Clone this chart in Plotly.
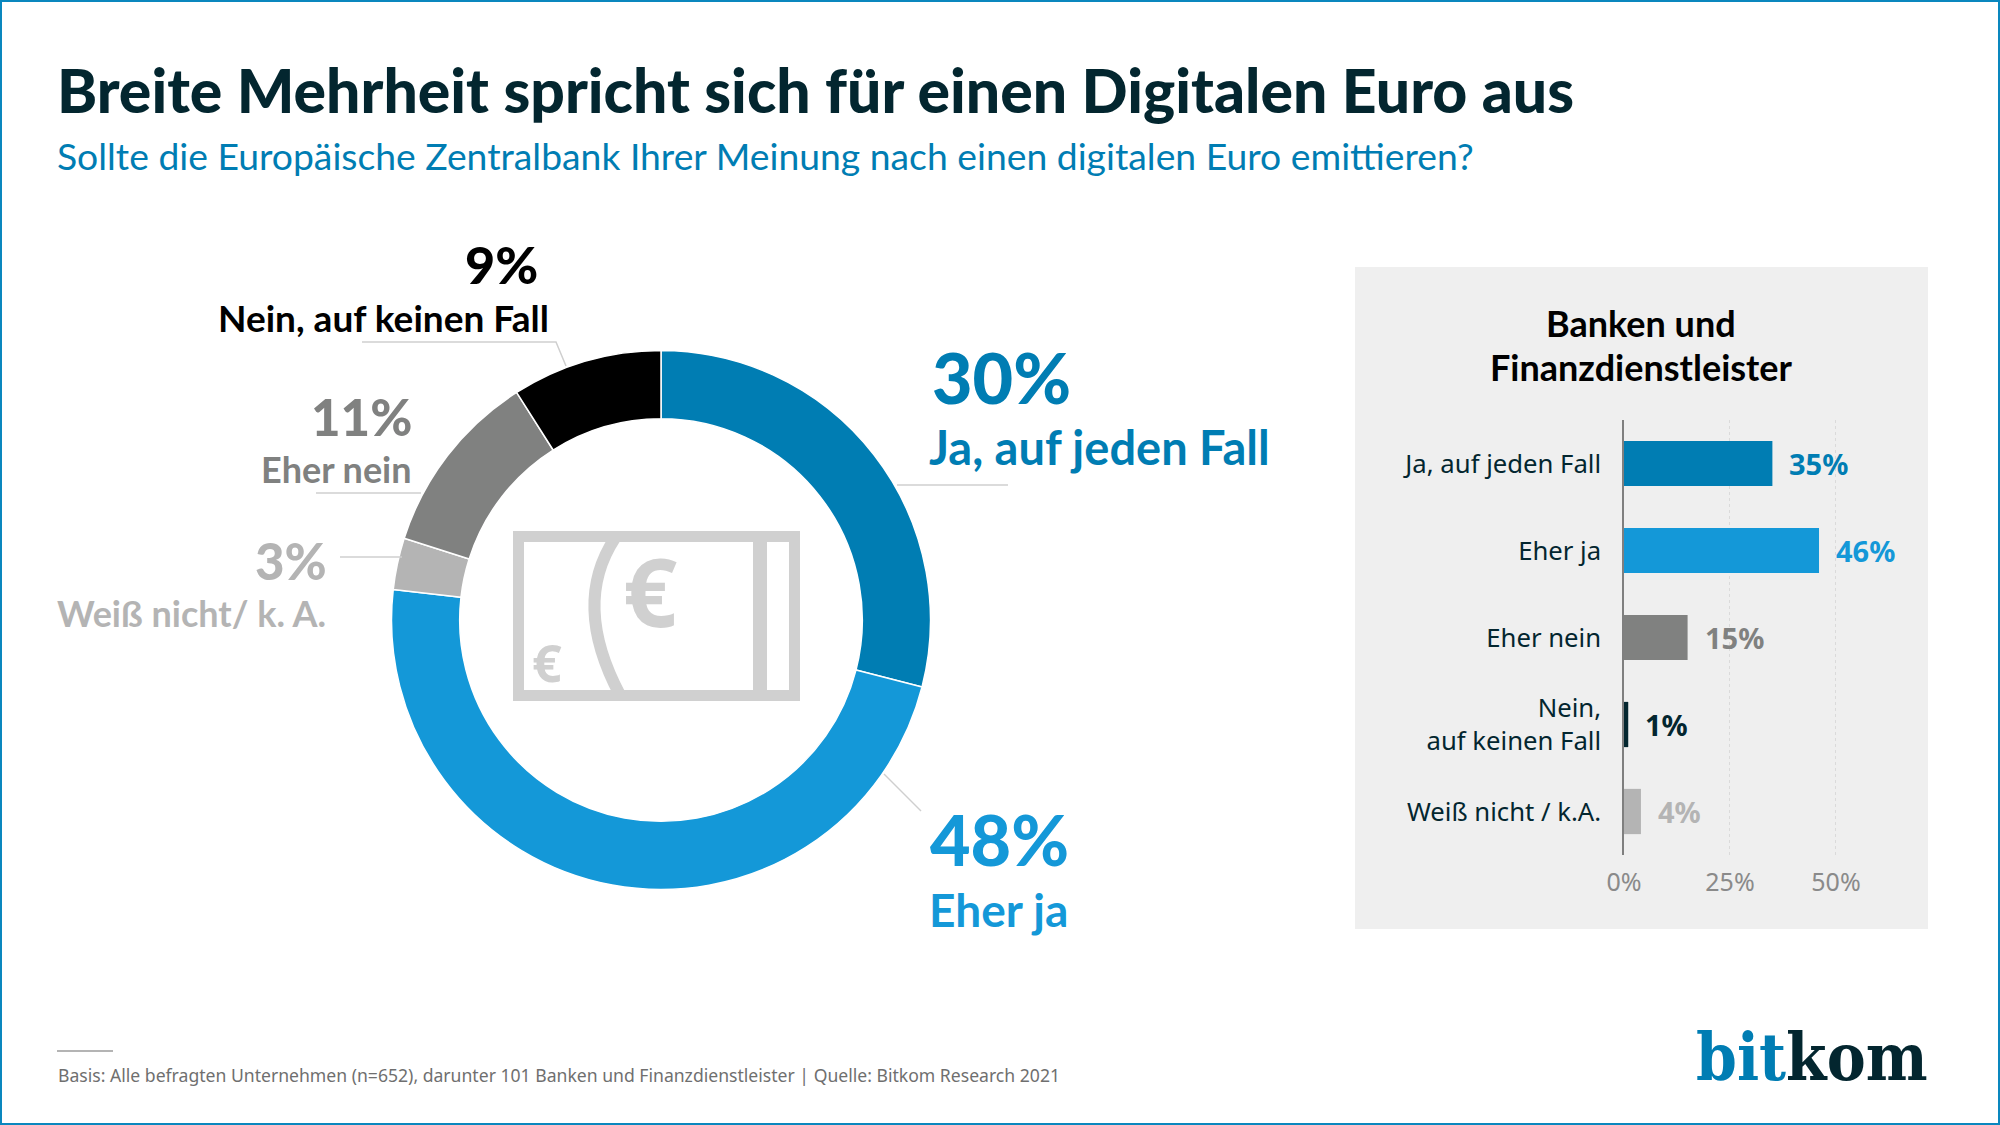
import plotly.graph_objects as go

W, H = 2000, 1125

# donut, total sample
pie_names = ["Ja, auf jeden Fall", "Eher ja", "Weiß nicht/ k. A.", "Eher nein", "Nein, auf keinen Fall"]
pie_values = [29.0, 47.8, 3.1, 11.1, 9.0]
pie_shown = ["30%", "48%", "3%", "11%", "9%"]
pie_colors = ["#007DB3", "#1498D8", "#B4B4B4", "#808180", "#000000"]

# bars, banks and financial services
bar_names = ["Ja, auf jeden Fall", "Eher ja", "Eher nein", "Nein,<br>auf keinen Fall", "Weiß nicht / k.A."]
bar_values = [35, 46, 15, 1, 4]
bar_colors = ["#007DB3", "#1498D8", "#808180", "#03262F", "#B4B4B4"]
bar_ticks = [0, 25, 50]

FONT = "Lato"
FONT2 = "Noto Sans"
DARK = "#03262F"
LEAD = "#CFCFCF"
ICON = "#D0D0D0"


def px(x):
    return x / W


def py(y):
    return 1 - y / H


def label(x, y, text, size, color, anchor="left", weight=700, font=FONT):
    return dict(xref="paper", yref="paper", x=px(x), y=py(y), text=text, showarrow=False,
                xanchor=anchor, yanchor="middle", align=anchor,
                font=dict(family=font, size=size, color=color, weight=weight))


def seg(points, color=LEAD, width=1.5):
    path = "M " + " L ".join(f"{px(x)} {py(y)}" for x, y in points)
    return dict(type="path", xref="paper", yref="paper", path=path, line=dict(color=color, width=width))


def box(x0, y0, x1, y1, fill=None, line=None, width=0, layer="below"):
    return dict(type="rect", xref="paper", yref="paper", x0=px(x0), x1=px(x1), y0=py(y0), y1=py(y1),
                fillcolor=fill or "rgba(0,0,0,0)", line=dict(color=line or "rgba(0,0,0,0)", width=width), layer=layer)


fig = go.Figure()

# donut
cx, cy, r = 661, 620, 269.5
fig.add_trace(go.Pie(
    labels=pie_names, values=pie_values, sort=False, direction="clockwise", rotation=0,
    hole=0.747, textinfo="none", showlegend=False,
    marker=dict(colors=pie_colors, line=dict(color="white", width=1.5)),
    domain=dict(x=[px(cx - r), px(cx + r)], y=[py(cy + r), py(cy - r)]),
))

# bars
fig.add_trace(go.Bar(
    x=bar_values, y=bar_names, orientation="h", width=0.52, showlegend=False,
    marker=dict(color=bar_colors, line=dict(width=0)), xaxis="x", yaxis="y",
))

annos = [
    label(54.5, 89, "Breite Mehrheit spricht sich für einen Digitalen Euro aus", 60.7, DARK, weight=900),
    label(55, 155, "Sollte die Europäische Zentralbank Ihrer Meinung nach einen digitalen Euro emittieren?", 37.3, "#007DB3", weight=400),
    label(929.5, 377, pie_shown[0], 70, pie_colors[0], weight=900),
    label(926.5, 447, pie_names[0], 47, pie_colors[0]),
    label(927.5, 839, pie_shown[1], 70, pie_colors[1], weight=900),
    label(926.5, 909, pie_names[1], 46, pie_colors[1]),
    label(329, 560, pie_shown[2], 51, pie_colors[2], "right", weight=900),
    label(328, 613, pie_names[2], 36, pie_colors[2], "right"),
    label(414, 416, pie_shown[3], 51, pie_colors[3], "right", weight=900),
    label(414, 469, pie_names[3], 36, pie_colors[3], "right"),
    label(540, 264, pie_shown[4], 52, pie_colors[4], "right", weight=900),
    label(551, 317, pie_names[4], 37, pie_colors[4], "right"),
    label(1641, 323, "Banken und", 36, "#000000", "center"),
    label(1641, 367, "Finanzdienstleister", 36, "#000000", "center"),
    label(56, 1075, "Basis: Alle befragten Unternehmen (n=652), darunter 101 Banken und Finanzdienstleister | Quelle: Bitkom Research 2021", 17.6, "#6F6F6F", weight=400, font=FONT2),
    label(650, 590, "€", 95, ICON, "center", font=FONT2),
    label(547, 661, "€", 52, ICON, "center", font=FONT2),
    label(1930, 1057, "<span style='color:#007DB3'>bit</span>kom", 65, DARK, "right", font="DejaVu Serif Condensed"),
]

# value labels next to the bars
for name, val, col in zip(bar_names, bar_values, bar_colors):
    annos.append(dict(xref="x", yref="y", x=val, y=name, text=f"{val}%", showarrow=False,
                      xanchor="left", xshift=15, yshift=0,
                      font=dict(family=FONT2, size=29, color=col, weight=700)))

shapes = [
    box(1355, 267, 1928, 929, fill="#EFEFEF"),
    box(1, 1, 1999, 1124, line="#0A87BE", width=2),
    # leader lines
    seg([(897, 485), (1008, 485)]),
    seg([(884, 774), (921, 811)]),
    seg([(362, 342), (556, 342), (566, 366)]),
    seg([(316, 493), (421, 493)]),
    seg([(340, 557), (402, 557)]),
    seg([(57, 1051), (113, 1051)], color="#B4B4B4", width=2),
    # banknote icon
    box(518.5, 536.5, 794.5, 695.5, line=ICON, width=11),
    box(753, 531, 767, 701, fill=ICON),
    dict(type="path", xref="paper", yref="paper", line=dict(color=ICON, width=12),
         path=f"M {px(615)} {py(538)} Q {px(571.5)} {py(604)} {px(620)} {py(695)}"),
]

fig.update_layout(
    width=W, height=H, margin=dict(l=0, r=0, t=0, b=0),
    paper_bgcolor="white", plot_bgcolor="rgba(0,0,0,0)", showlegend=False,
    annotations=annos, shapes=shapes,
    xaxis=dict(domain=[px(1624), px(1900)], range=[0, 65.1], tickvals=bar_ticks, automargin=False,
               ticktext=[f"{t}%" for t in bar_ticks], showline=False, zeroline=False,
               showgrid=True, gridcolor="#DADADA", griddash="dot", gridwidth=1,
               tickfont=dict(family=FONT2, size=25, color="#8A8A8A"), ticks="", ticklabelstandoff=10),
    yaxis=dict(domain=[py(855), py(420)], range=[4.5, -0.5], type="category", automargin=False,
               categoryorder="array", categoryarray=bar_names,
               showline=True, linecolor="#7F7F7F", linewidth=1.5, showgrid=False, zeroline=False,
               tickfont=dict(family=FONT2, size=25.7, color="#03262F"), ticks="", ticklabelstandoff=16),
)

# page margin off, so the figure sits at 0,0
fig.write_html("out.html", config={"displayModeBar": False},
               post_script="document.body.style.margin='0';document.documentElement.style.overflow='hidden';")
